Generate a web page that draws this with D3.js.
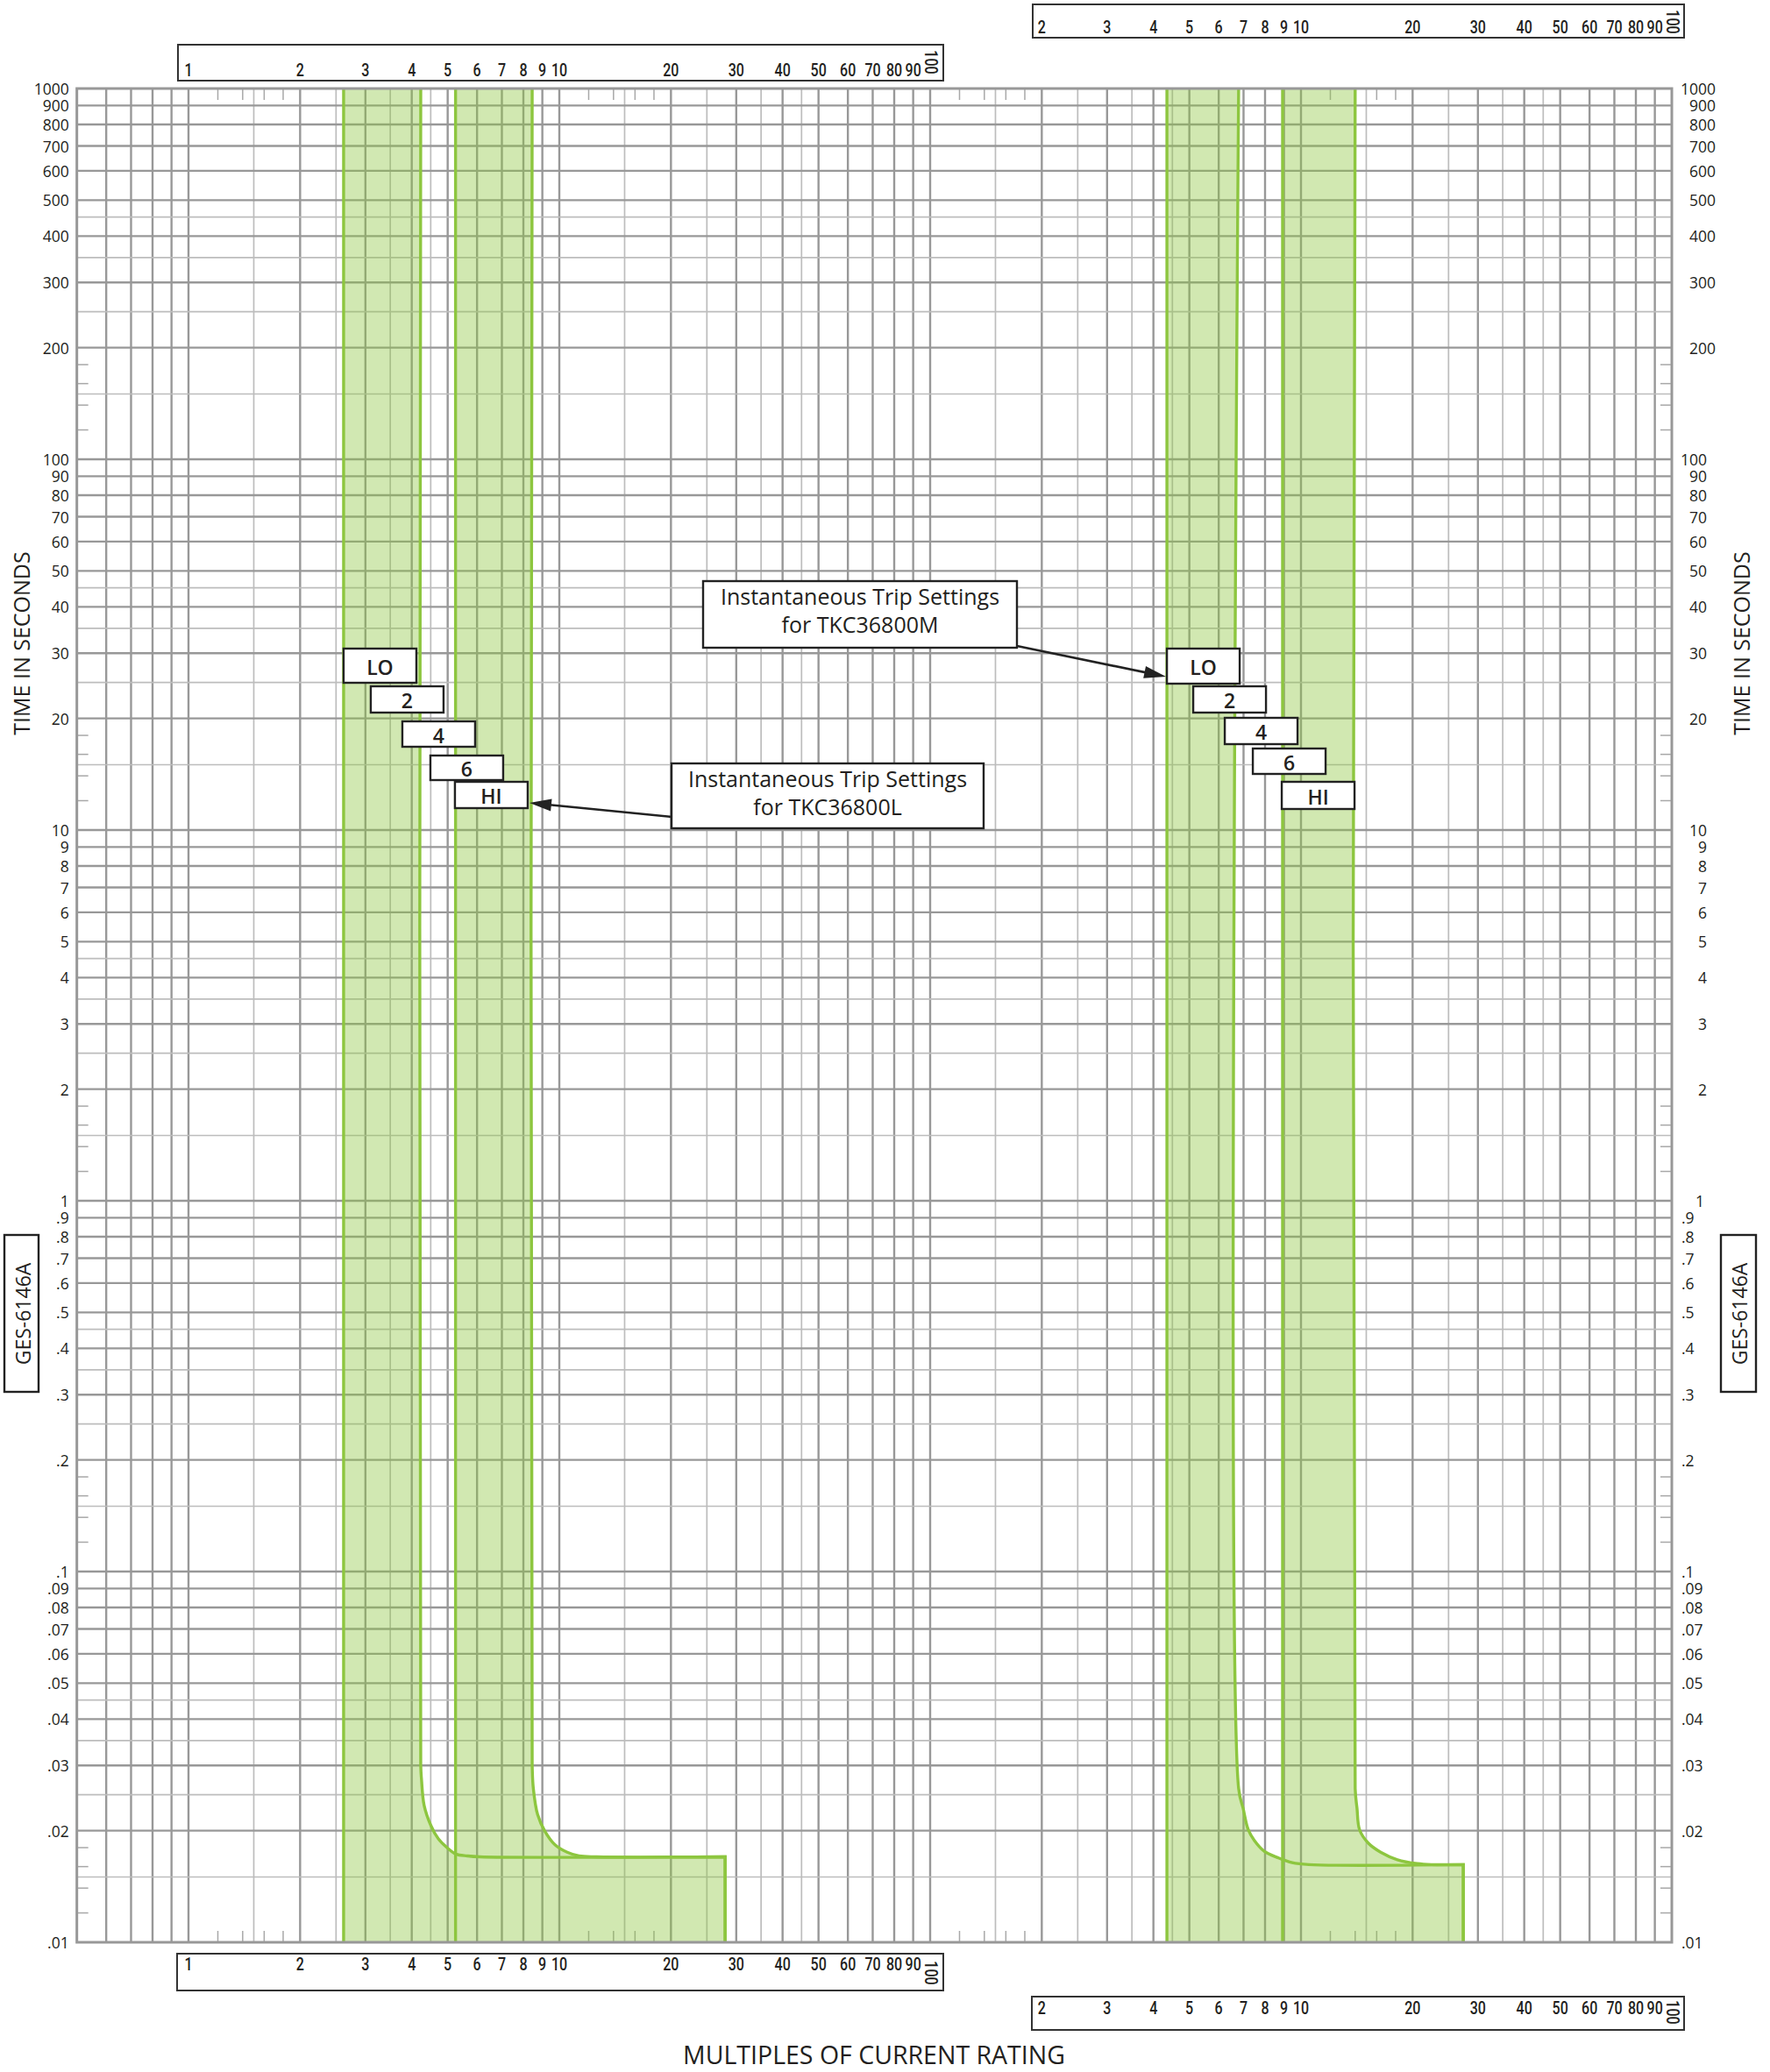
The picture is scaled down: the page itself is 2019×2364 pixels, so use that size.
<!DOCTYPE html>
<html><head><meta charset="utf-8">
<script src="https://cdn.jsdelivr.net/npm/d3@7"></script>
<style>
body{margin:0;background:#fff;}
svg{display:block;}
</style></head><body>
<svg id="c" width="2019" height="2364"></svg>
<script>
// ---------------- data ----------------
const boxTicksLeft  = [1,2,3,4,5,6,7,8,9,10,20,30,40,50,60,70,80,90,100];
const boxTicksRight = [2,3,4,5,6,7,8,9,10,20,30,40,50,60,70,80,90,100];
const timeTicks = [1000,900,800,700,600,500,400,300,200,
                   100,90,80,70,60,50,40,30,20,
                   10,9,8,7,6,5,4,3,2,
                   1,0.9,0.8,0.7,0.6,0.5,0.4,0.3,0.2,
                   0.1,0.09,0.08,0.07,0.06,0.05,0.04,0.03,0.02,0.01];
const settingLabels = ["LO","2","4","6","HI"];
const catalogL = "TKC36800L";
const catalogM = "TKC36800M";
const calloutLine1 = "Instantaneous Trip Settings";
const xTitle = "MULTIPLES OF CURRENT RATING";
const yTitle = "TIME IN SECONDS";
const docId = "GES-6146A";

// TKC36800L band edges (multiples on the left-hand scale, seconds)
const tkcL_loLeft = 2.62;
const tkcL_loRight = [[4.23,1000],[4.23,0.030],[4.25,0.0275],[4.32,0.0234],[4.51,0.0206],[4.72,0.0190],[4.98,0.0180],[5.26,0.0173],[5.65,0.0171],[6.1,0.0170],[28.0,0.0170]];
const tkcL_hiLeft = 5.25;
const tkcL_hiRight = [[8.45,1000],[8.45,0.030],[8.51,0.026],[8.74,0.0221],[9.15,0.0199],[9.75,0.0183],[10.5,0.0175],[11.3,0.0171],[12.6,0.0170],[28.0,0.0170]];
// TKC36800M band edges (multiples on the right-hand scale, seconds)
const tkcM_loLeft = 4.35;
const tkcM_loRight = [[6.79,1000],[6.79,0.026],[6.98,0.0230],[7.21,0.0201],[7.49,0.0188],[7.96,0.0176],[8.68,0.0169],[9.47,0.0164],[10.5,0.0162],[27.4,0.0162]];
const tkcM_hiLeft = 8.92;
const tkcM_hiRight = [[14.0,1000],[14.0,0.026],[14.16,0.0230],[14.39,0.0201],[15.2,0.0185],[16.4,0.0175],[18.2,0.0167],[20.6,0.0163],[22.5,0.0162],[27.4,0.0162]];

// ---------------- layout ----------------
const W = 2019, H = 2364;
const DEC = 423;          // px per decade (both axes)
const X_ONE = 215;        // pixel of multiple 1 on the left scale
const Y_TOP = 101;
const x = d3.scaleLog().domain([0.5, 10000]).range([X_ONE + Math.log10(0.5)*DEC, X_ONE + 4*DEC]);
const y = d3.scaleLog().domain([1000, 0.01]).range([Y_TOP, Y_TOP + 5*DEC]);
const xR = v => x(v*100);   // right-hand multiple scale sits two decades further on the paper
const X0 = x.range()[0], X1 = x.range()[1], Y0 = y.range()[0], Y1 = y.range()[1];

const GREEN = "#8dc63f";
const INK = "#231f20";
const sansFont = "'Open Sans','Noto Sans',sans-serif";
const condFont = "Roboto,'Open Sans',sans-serif";

const svg = d3.select("#c");
svg.append("rect").attr("width", W).attr("height", H).attr("fill", "#fff");

// ---------------- grid ----------------
const mults = [1,1.5,2,2.5,3,3.5,4,4.5,5,6,7,8,9];
const halfMults = [1.5,2.5,3.5,4.5];
const shortMults = [1.2,1.4,1.6,1.8];
function gridVals(e0, e1, ms, lo, hi) {
  const out = [];
  for (let e = e0; e <= e1; e++) for (const m of ms) {
    const v = +(m*Math.pow(10, e)).toPrecision(6);
    if (v > lo*1.0001 && v < hi*0.9999) out.push({v, minor: halfMults.includes(m)});
  }
  return out;
}
const xGrid = gridVals(-1, 4, mults, 0.5, 10000);
const yGrid = gridVals(-2, 3, mults, 0.01, 1000);
const xShort = gridVals(-1, 4, shortMults, 0.5, 10000);
const yShort = gridVals(-2, 3, shortMults, 0.01, 1000);

const grid = svg.append("g");
grid.selectAll("line.gx").data(xGrid).join("line").attr("class","gx")
  .attr("x1", d => x(d.v)).attr("x2", d => x(d.v)).attr("y1", Y0).attr("y2", Y1)
  .attr("stroke", d => d.minor ? "#bdbdbd" : "#989898")
  .attr("stroke-width", d => d.minor ? 1.7 : 2.4);
grid.selectAll("line.gy").data(yGrid).join("line").attr("class","gy")
  .attr("y1", d => y(d.v)).attr("y2", d => y(d.v)).attr("x1", X0).attr("x2", X1)
  .attr("stroke", d => d.minor ? "#bdbdbd" : "#989898")
  .attr("stroke-width", d => d.minor ? 1.7 : 2.4);
const TL = 13;
xShort.forEach(d => {
  grid.append("line").attr("x1", x(d.v)).attr("x2", x(d.v)).attr("y1", Y0).attr("y2", Y0+TL)
    .attr("stroke","#a8a8a8").attr("stroke-width",1.5);
  grid.append("line").attr("x1", x(d.v)).attr("x2", x(d.v)).attr("y1", Y1).attr("y2", Y1-TL)
    .attr("stroke","#a8a8a8").attr("stroke-width",1.5);
});
yShort.forEach(d => {
  grid.append("line").attr("y1", y(d.v)).attr("y2", y(d.v)).attr("x1", X0).attr("x2", X0+TL)
    .attr("stroke","#a8a8a8").attr("stroke-width",1.5);
  grid.append("line").attr("y1", y(d.v)).attr("y2", y(d.v)).attr("x1", X1).attr("x2", X1-TL)
    .attr("stroke","#a8a8a8").attr("stroke-width",1.5);
});

// ---------------- bands ----------------
const crLine = sx => d3.line().x(d => sx(d[0])).y(d => y(d[1])).curve(d3.curveCatmullRom.alpha(0.5));
function rightEdge(sx, pts) {
  const last = pts[pts.length-1];
  return crLine(sx)(pts) + `L${sx(last[0])},${y(0.01)}`;
}
const bands = [
  {sx: x,  left: tkcL_loLeft, right: tkcL_loRight},
  {sx: x,  left: tkcL_hiLeft, right: tkcL_hiRight},
  {sx: xR, left: tkcM_loLeft, right: tkcM_loRight},
  {sx: xR, left: tkcM_hiLeft, right: tkcM_hiRight}
];
const fillG = svg.append("g").attr("opacity", 0.4);
bands.forEach(b => {
  const re = rightEdge(b.sx, b.right).replace(/^M/, "L");
  fillG.append("path")
    .attr("d", `M${b.sx(b.left)},${y(0.01)}L${b.sx(b.left)},${y(1000)}` + re + "Z")
    .attr("fill", GREEN);
});
const strokeG = svg.append("g");
bands.forEach(b => {
  strokeG.append("line").attr("x1", b.sx(b.left)).attr("x2", b.sx(b.left)).attr("y1", Y0).attr("y2", Y1)
    .attr("stroke", GREEN).attr("stroke-width", 3.4);
  strokeG.append("path").attr("d", rightEdge(b.sx, b.right))
    .attr("fill", "none").attr("stroke", GREEN).attr("stroke-width", 3.4);
});

// border
svg.append("rect").attr("x", X0).attr("y", Y0).attr("width", X1-X0).attr("height", Y1-Y0)
  .attr("fill","none").attr("stroke","#989898").attr("stroke-width",3);

// ---------------- time labels ----------------
const fmtT = v => v >= 1 ? String(v) : String(v).replace(/^0/, "");
svg.append("g").selectAll("text").data(timeTicks).join("text")
  .attr("x", X0 - 9).attr("y", d => y(d)).attr("text-anchor","end")
  .attr("dominant-baseline","central")
  .attr("font-family", sansFont).attr("font-weight", 500).attr("font-size", 17.5).attr("fill", INK)
  .text(fmtT);
function rightAnchor(v) {
  if (v < 1) return {x: X1 + 11, a: "start"};
  if (v === 1) return {x: X1 + 37, a: "end"};
  if (v >= 200) return {x: X1 + 50, a: "end"};
  return {x: X1 + 40, a: "end"};
}
svg.append("g").selectAll("text").data(timeTicks).join("text")
  .attr("x", d => rightAnchor(d).x).attr("y", d => y(d)).attr("text-anchor", d => rightAnchor(d).a)
  .attr("dominant-baseline","central")
  .attr("font-family", sansFont).attr("font-weight", 500).attr("font-size", 17.5).attr("fill", INK)
  .text(fmtT);

// ---------------- multiple scale boxes ----------------
function scaleBox(ticks, sx, box, textY, rotY) {
  const gb = svg.append("g");
  gb.append("rect").attr("x", box.x).attr("y", box.y).attr("width", box.w).attr("height", box.h)
    .attr("fill","#fff").attr("stroke","#333").attr("stroke-width",2);
  ticks.filter(v => v !== 100).forEach(v => {
    gb.append("text").attr("transform", `translate(${sx(v)},${textY}) scale(0.8,1)`)
      .attr("text-anchor","middle").attr("dominant-baseline","central")
      .attr("font-family", condFont).attr("font-weight", 500).attr("font-size", 20).attr("fill", INK)
      .text(v);
  });
  gb.append("text").attr("transform", `translate(${sx(100)+1},${rotY}) rotate(90) scale(0.8,1)`)
    .attr("text-anchor","middle").attr("dominant-baseline","central")
    .attr("font-family", condFont).attr("font-weight", 500).attr("font-size", 20).attr("fill", INK)
    .text(100);
}
scaleBox(boxTicksLeft, x, {x: 203, y: 51, w: 873, h: 41}, 80, 71);
scaleBox(boxTicksRight, xR, {x: 1178, y: 5, w: 743, h: 38}, 31, 25);
scaleBox(boxTicksLeft, x, {x: 202, y: 2229, w: 874, h: 42}, 2241, 2251);
scaleBox(boxTicksRight, xR, {x: 1177, y: 2278, w: 744, h: 38}, 2291, 2296);

// ---------------- setting label boxes ----------------
const stairL = [{dx:0,y:740,h:39},{dx:31,y:783,h:30},{dx:67,y:823,h:29},{dx:99,y:862,h:28},{dx:127,y:892,h:30}];
const stairM = [{dx:0,y:740,h:40},{dx:30,y:783,h:30},{dx:66,y:819,h:30},{dx:98,y:854,h:29},{dx:131,y:892,h:31}];
function stair(x0, layout) {
  const gs = svg.append("g");
  settingLabels.forEach((s, i) => {
    const L = layout[i];
    gs.append("rect").attr("x", x0 + L.dx).attr("y", L.y).attr("width", 83).attr("height", L.h)
      .attr("fill","#fff").attr("stroke","#222").attr("stroke-width",2.4);
    gs.append("text").attr("x", x0 + L.dx + 41.5).attr("y", L.y + L.h/2 + 1)
      .attr("text-anchor","middle").attr("dominant-baseline","central")
      .attr("font-family", sansFont).attr("font-weight", 600).attr("font-size", 23).attr("fill", INK)
      .text(s);
  });
}
stair(x(tkcL_loLeft), stairL);
stair(xR(tkcM_loLeft), stairM);

// ---------------- callouts ----------------
function callout(box, lines, from, to) {
  const gc = svg.append("g");
  const dx = to[0]-from[0], dy = to[1]-from[1], len = Math.hypot(dx, dy);
  const ux = dx/len, uy = dy/len, AL = 25, AW = 7;
  const bx = to[0] - ux*AL, by = to[1] - uy*AL;
  gc.append("line").attr("x1", from[0]).attr("y1", from[1]).attr("x2", bx + ux*2).attr("y2", by + uy*2)
    .attr("stroke","#222").attr("stroke-width",2.6);
  gc.append("path").attr("d", `M${to[0]},${to[1]}L${bx - uy*AW},${by + ux*AW}L${bx + uy*AW},${by - ux*AW}Z`)
    .attr("fill","#222");
  gc.append("rect").attr("x", box.x).attr("y", box.y).attr("width", box.w).attr("height", box.h)
    .attr("fill","#fff").attr("stroke","#222").attr("stroke-width",2.4);
  lines.forEach((t, i) => {
    gc.append("text").attr("x", box.x + box.w/2).attr("y", box.y + 27 + i*32)
      .attr("text-anchor","middle")
      .attr("font-family", sansFont).attr("font-weight", 500).attr("font-size", 25).attr("fill", INK)
      .text(t);
  });
}
callout({x: 802, y: 663, w: 358, h: 76}, [calloutLine1, "for " + catalogM], [1160, 737], [xR(tkcM_loLeft) - 1, 772]);
callout({x: 766, y: 871, w: 356, h: 74}, [calloutLine1, "for " + catalogL], [766, 932], [x(tkcL_loLeft) + 127 + 85, 916]);

// ---------------- titles ----------------
svg.append("text").attr("x", 997).attr("y", 2355).attr("text-anchor","middle")
  .attr("font-family", sansFont).attr("font-weight", 500).attr("font-size", 28.5).attr("fill", INK).text(xTitle);
[24, 1986].forEach(cx => {
  svg.append("text").attr("transform", `translate(${cx},734) rotate(-90)`)
    .attr("text-anchor","middle").attr("dominant-baseline","central")
    .attr("font-family", sansFont).attr("font-weight", 500).attr("font-size", 25).attr("fill", INK).text(yTitle);
});
[{x: 5, w: 39}, {x: 1963, w: 40}].forEach(b => {
  svg.append("rect").attr("x", b.x).attr("y", 1409).attr("width", b.w).attr("height", 179)
    .attr("fill","#fff").attr("stroke","#222").attr("stroke-width",2.4);
  svg.append("text").attr("transform", `translate(${b.x + b.w/2 + 1},1499) rotate(-90)`)
    .attr("text-anchor","middle").attr("dominant-baseline","central")
    .attr("font-family", sansFont).attr("font-weight", 500).attr("font-size", 23).attr("fill", INK).text(docId);
});
</script>
</body></html>
